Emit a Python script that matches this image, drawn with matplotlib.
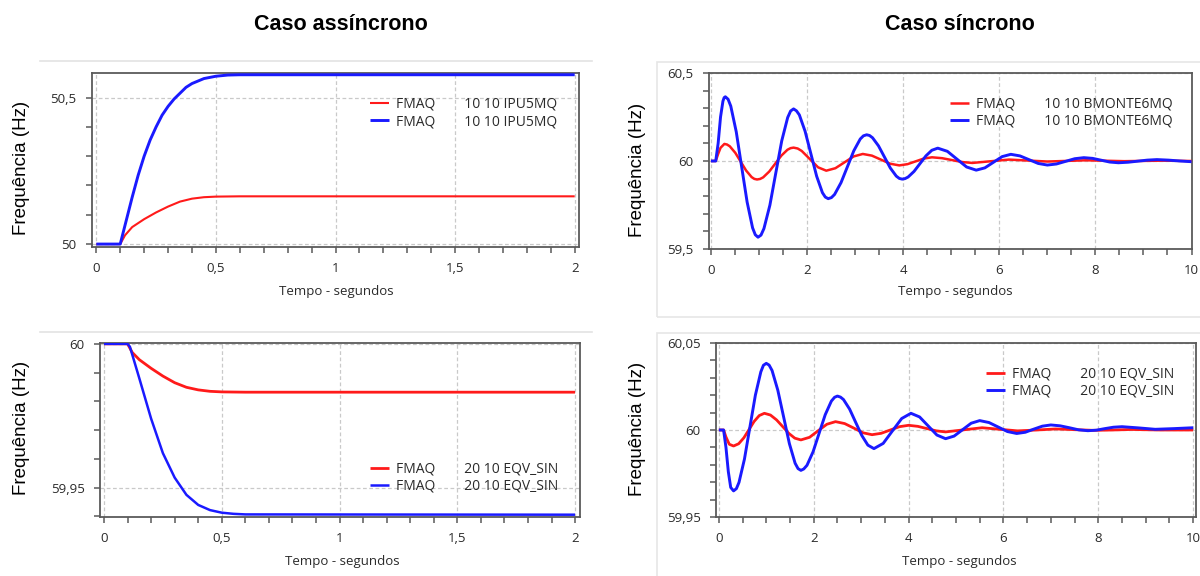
import matplotlib
matplotlib.use("Agg")
import matplotlib.pyplot as plt
from matplotlib.ticker import FixedLocator, FixedFormatter, MultipleLocator
from matplotlib.lines import Line2D
from matplotlib.patches import Rectangle

# ---------------- data ----------------
titles = ["Caso assíncrono", "Caso síncrono"]
ylabel_text = "Frequência (Hz)"
xlabel_text = "Tempo - segundos"

# Top-left: asynchronous case, 10 10 IPU5MQ
tl_t_red = [0.0, 0.1, 0.12, 0.15, 0.2, 0.25, 0.3, 0.35, 0.4, 0.45, 0.5, 0.6, 2.0]
tl_y_red = [50.0, 50.0, 50.03, 50.058, 50.085, 50.108, 50.128, 50.145, 50.155, 50.160, 50.162, 50.163, 50.163]
tl_t_blue = [0.0, 0.1, 0.125, 0.15, 0.175, 0.2, 0.225, 0.25, 0.275, 0.3, 0.325, 0.35, 0.375, 0.4,
             0.45, 0.5, 0.55, 0.6, 2.0]
tl_y_blue = [50.0, 50.0, 50.08, 50.16, 50.235, 50.30, 50.355, 50.40, 50.44, 50.47, 50.495, 50.515,
             50.535, 50.548, 50.565, 50.573, 50.577, 50.578, 50.578]
tl_legend = ["FMAQ        10 10 IPU5MQ", "FMAQ        10 10 IPU5MQ"]
tl_xticks = [0, 0.5, 1, 1.5, 2]
tl_xticklabels = ["0", "0,5", "1", "1,5", "2"]
tl_yticks = [50.0, 50.5]
tl_yticklabels = ["50", "50,5"]

# Top-right: synchronous case, 10 10 BMONTE6MQ
tr_t_red = [0.0, 0.1, 0.15, 0.2, 0.28, 0.335, 0.393, 0.507, 0.62, 0.733, 0.847, 0.903, 0.96, 1.023,
            1.087, 1.213, 1.34, 1.467, 1.593, 1.657, 1.72, 1.805, 1.89, 2.06, 2.23, 2.4, 2.59,
            2.78, 2.97, 3.16, 3.35, 3.54, 3.73, 3.92, 4.09, 4.26, 4.43, 4.6, 4.81, 5.02, 5.23,
            5.44, 5.82, 6.2, 6.6, 7.0, 7.4, 7.8, 8.2, 8.6, 9.0, 9.4, 10.0]
tr_y_red = [60.0, 60.0, 60.04, 60.075, 60.097, 60.0936, 60.0835, 60.0465, 59.996, 59.9455, 59.9085,
            59.8984, 59.895, 59.898, 59.907, 59.940, 59.9855, 60.031, 60.064, 60.073, 60.076,
            60.071, 60.057, 60.0105, 59.964, 59.945, 59.959, 59.9925, 60.026, 60.04, 60.0305,
            60.0075, 59.9845, 59.975, 59.982, 59.998, 60.014, 60.021, 60.016, 60.005, 59.994,
            59.989, 59.9985, 60.008, 60.0025, 59.997, 60.0005, 60.004, 60.0015, 59.999, 60.0005,
            60.002, 60.0]
tr_t_blue = [0.0, 0.1, 0.15, 0.2, 0.25, 0.275, 0.3, 0.357, 0.413, 0.527, 0.64, 0.753, 0.867, 0.923,
             0.98, 1.042, 1.103, 1.227, 1.35, 1.473, 1.597, 1.658, 1.72, 1.78, 1.84, 1.96, 2.08,
             2.2, 2.32, 2.38, 2.44, 2.507, 2.573, 2.707, 2.84, 2.973, 3.107, 3.173, 3.24, 3.3,
             3.363, 3.487, 3.61, 3.733, 3.857, 3.92, 3.98, 4.04, 4.103, 4.227, 4.35, 4.473,
             4.597, 4.72, 4.92, 5.12, 5.32, 5.52, 5.70, 5.88, 6.06, 6.24, 6.43, 6.62, 6.81, 7.0,
             7.19, 7.38, 7.57, 7.76, 7.94, 8.12, 8.30, 8.48, 8.68, 8.88, 9.08, 9.28, 9.52, 9.76,
             10.0]
tr_y_blue = [60.0, 60.0, 60.10, 60.25, 60.34, 60.36, 60.365, 60.351, 60.312, 60.166, 59.966,
             59.767, 59.620, 59.581, 59.567, 59.579, 59.616, 59.749, 59.932, 60.114, 60.247,
             60.284, 60.296, 60.285, 60.262, 60.1685, 60.041, 59.9135, 59.820, 59.795, 59.786,
             59.792, 59.810, 59.877, 59.9675, 60.058, 60.125, 60.143, 60.149, 60.145, 60.132,
             60.086, 60.023, 59.960, 59.914, 59.901, 59.897, 59.900, 59.909, 59.941, 59.985,
             60.029, 60.061, 60.073, 60.055, 60.0105, 59.966, 59.948, 59.961, 59.993, 60.025,
             60.038, 60.029, 60.0075, 59.986, 59.977, 59.983, 59.998, 60.013, 60.019, 60.015,
             60.0045, 59.994, 59.990, 59.993, 59.999, 60.005, 60.008, 60.005, 60.0, 59.996]
tr_legend = ["FMAQ        10 10 BMONTE6MQ", "FMAQ        10 10 BMONTE6MQ"]
tr_xticks = [0, 2, 4, 6, 8, 10]
tr_xticklabels = ["0", "2", "4", "6", "8", "10"]
tr_yticks = [59.5, 60.0, 60.5]
tr_yticklabels = ["59,5", "60", "60,5"]

# Bottom-left: asynchronous case, 20 10 EQV_SIN
bl_t_red = [0.0, 0.1, 0.12, 0.15, 0.2, 0.25, 0.3, 0.35, 0.4, 0.45, 0.5, 0.6, 2.0]
bl_y_red = [60.0, 60.0, 59.997, 59.9945, 59.9915, 59.9888, 59.9865, 59.9849, 59.984, 59.9835,
            59.9833, 59.9832, 59.9832]
bl_t_blue = [0.0, 0.1, 0.11, 0.15, 0.2, 0.25, 0.3, 0.35, 0.4, 0.45, 0.5, 0.55, 0.6, 2.0]
bl_y_blue = [60.0, 60.0, 59.999, 59.988, 59.974, 59.962, 59.9535, 59.9475, 59.944, 59.9422,
             59.9413, 59.9409, 59.9407, 59.9406]
bl_legend = ["FMAQ        20 10 EQV_SIN", "FMAQ        20 10 EQV_SIN"]
bl_xticks = [0, 0.5, 1, 1.5, 2]
bl_xticklabels = ["0", "0,5", "1", "1,5", "2"]
bl_yticks = [59.95, 60.0]
bl_yticklabels = ["59,95", "60"]

# Bottom-right: synchronous case, 20 10 EQV_SIN
br_t_red = [0.0, 0.1, 0.15, 0.22, 0.31, 0.418, 0.527, 0.635, 0.743, 0.852, 0.96, 1.088, 1.217,
            1.345, 1.473, 1.602, 1.73, 1.9125, 2.095, 2.2775, 2.46, 2.6525, 2.845, 3.0375, 3.23,
            3.4225, 3.615, 3.8075, 4.0, 4.195, 4.39, 4.585, 4.78, 5.165, 5.55, 5.925, 6.3, 6.7,
            7.1, 7.5, 7.9, 8.3, 8.7, 9.3, 10.0]
br_y_red = [60.0, 60.0, 59.996, 59.9918, 59.9908, 59.9921, 59.9955, 60.0002, 60.0049, 60.0083,
            60.0096, 60.0086, 60.0058, 60.002, 59.9981, 59.9953, 59.9943, 59.9958, 59.9996,
            60.0033, 60.0048, 60.0037, 60.0011, 59.9984, 59.9973, 59.9981, 60.0, 60.0019,
            60.0027, 60.0021, 60.0008, 59.9995, 59.9989, 60.0001, 60.0013, 60.0004, 59.9995,
            60.0, 60.0006, 60.0002, 59.9998, 60.0, 60.0003, 60.0, 60.0]
br_t_blue = [0.0, 0.1, 0.15, 0.2, 0.25, 0.31, 0.37, 0.425, 0.54, 0.655, 0.77, 0.885, 0.94, 1.0,
             1.06, 1.122, 1.243, 1.365, 1.487, 1.608, 1.67, 1.73, 1.79, 1.858, 1.987, 2.115,
             2.243, 2.372, 2.44, 2.5, 2.565, 2.628, 2.757, 2.885, 3.013, 3.142, 3.27, 3.465,
             3.66, 3.855, 4.05, 4.2325, 4.415, 4.5975, 4.78, 4.96, 5.14, 5.32, 5.5, 5.695, 5.89,
             6.085, 6.28, 6.46, 6.64, 6.82, 7.0, 7.195, 7.39, 7.585, 7.78, 7.96, 8.14, 8.32, 8.5,
             8.85, 9.2, 9.6, 10.0]
br_y_blue = [60.0, 60.0, 59.99, 59.976, 59.967, 59.965, 59.9663, 59.9699, 59.9833, 60.0017,
             60.0200, 60.0334, 60.0372, 60.0383, 60.0373, 60.0342, 60.0229, 60.0076, 59.9922,
             59.9809, 59.9778, 59.9768, 59.9776, 59.9797, 59.9875, 59.9982, 60.0088, 60.0166,
             60.0188, 60.0195, 60.0189, 60.0175, 60.012, 60.0044, 59.9969, 59.9913, 59.9893,
             59.9923, 59.9995, 60.0066, 60.0096, 60.0075, 60.0023, 59.9971, 59.995, 59.9965,
             60.0002, 60.0039, 60.0054, 60.0043, 60.0017, 59.9991, 59.998, 59.9987, 60.0005,
             60.0022, 60.0029, 60.0024, 60.0013, 60.0001, 59.9996, 59.9999, 60.0008, 60.0016,
             60.0019, 60.0012, 60.0004, 60.0008, 60.0013]
br_legend = ["FMAQ        20 10 EQV_SIN", "FMAQ        20 10 EQV_SIN"]
br_xticks = [0, 2, 4, 6, 8, 10]
br_xticklabels = ["0", "2", "4", "6", "8", "10"]
br_yticks = [59.95, 60.0, 60.05]
br_yticklabels = ["59,95", "60", "60,05"]

# ---------------- style ----------------
W, H = 1200, 576
RED = "#ff1a1a"
BLUE = "#1a1aff"
SPINE = "#5a5a5a"
GRID = "#c9c9c9"
TXT = "#2a2a2a"
UI_FONT = ["Open Sans", "DejaVu Sans"]
ARIAL = ["Liberation Sans", "DejaVu Sans"]

fig = plt.figure(figsize=(W / 100, H / 100), dpi=100)
fig.patch.set_facecolor("white")


def px_rect(left, top, right, bottom):
    return [left / W, 1 - bottom / H, (right - left) / W, (bottom - top) / H]


def panel(rect, tr, yr, tb, yb, xlim, ylim, xt, xtl, yt, ytl, xminor, yminor,
          labels, leg_anchor, lw_red, lw_blue):
    ax = fig.add_axes(rect)
    ax.plot(tr, yr, color=RED, lw=lw_red, label=labels[0], solid_capstyle="butt",
            solid_joinstyle="round", zorder=3)
    ax.plot(tb, yb, color=BLUE, lw=lw_blue, label=labels[1], solid_capstyle="butt",
            solid_joinstyle="round", zorder=4)
    ax.set_xlim(*xlim)
    ax.set_ylim(*ylim)
    ax.xaxis.set_major_locator(FixedLocator(xt))
    ax.xaxis.set_major_formatter(FixedFormatter(xtl))
    ax.yaxis.set_major_locator(FixedLocator(yt))
    ax.yaxis.set_major_formatter(FixedFormatter(ytl))
    ax.xaxis.set_minor_locator(MultipleLocator(xminor))
    ax.yaxis.set_minor_locator(MultipleLocator(yminor))
    ax.grid(True, which="major", color=GRID, ls=(0, (3, 2)), lw=0.9, zorder=1)
    for s in ax.spines.values():
        s.set_color(SPINE)
        s.set_linewidth(1.3)
    ax.tick_params(which="both", direction="out", length=4, width=1.1, color=SPINE,
                   top=False, right=False)
    ax.tick_params(which="major", labelsize=9.5, labelcolor=TXT, pad=7)
    for lab in ax.get_xticklabels() + ax.get_yticklabels():
        lab.set_family(UI_FONT)
    leg = ax.legend(loc="center left", bbox_to_anchor=leg_anchor, frameon=False,
                    prop={"family": UI_FONT, "size": 10}, handlelength=1.35,
                    handletextpad=0.5, labelspacing=0.15, borderpad=0, borderaxespad=0)
    for txt in leg.get_texts():
        txt.set_color(TXT)
    return ax


# decorations: separators / light boxes
fig.add_artist(Line2D([40 / W, 592 / W], [1 - 61 / H, 1 - 61 / H], color="#e3e3e3", lw=1.2))
fig.add_artist(Line2D([40 / W, 592 / W], [1 - 332 / H, 1 - 332 / H], color="#e3e3e3", lw=1.2))
fig.add_artist(Rectangle((657 / W, 1 - 317 / H), (W + 5 - 657) / W, 255 / H, fill=False,
                         edgecolor="#e6e6e6", lw=1.2, transform=fig.transFigure))
fig.add_artist(Rectangle((657 / W, 1 - 580 / H), (W + 5 - 657) / W, 247 / H, fill=False,
                         edgecolor="#e6e6e6", lw=1.2, transform=fig.transFigure))

panel(px_rect(92, 73, 579, 247), tl_t_red, tl_y_red, tl_t_blue, tl_y_blue,
      (-0.018, 2.018), (49.99, 50.584), tl_xticks, tl_xticklabels, tl_yticks, tl_yticklabels,
      0.1, 0.1, tl_legend, (0.571, 0.77), 1.5, 2.1)
panel(px_rect(709, 73, 1192, 249), tr_t_red, tr_y_red, tr_t_blue, tr_y_blue,
      (-0.04, 10.01), (59.5, 60.5), tr_xticks, tr_xticklabels, tr_yticks, tr_yticklabels,
      0.5, 0.1, tr_legend, (0.499, 0.776), 1.8, 2.1)
panel(px_rect(100, 343, 580, 517), bl_t_red, bl_y_red, bl_t_blue, bl_y_blue,
      (-0.017, 2.021), (59.9398, 60.0003), bl_xticks, bl_xticklabels, bl_yticks, bl_yticklabels,
      0.1, 0.01, bl_legend, (0.5625, 0.227), 2.0, 1.8)
panel(px_rect(716, 343, 1196, 517), br_t_red, br_y_red, br_t_blue, br_y_blue,
      (-0.06, 10.06), (59.95, 60.05), br_xticks, br_xticklabels, br_yticks, br_yticklabels,
      0.5, 0.01, br_legend, (0.5625, 0.773), 2.0, 2.1)

# titles
fig.text(341 / W, 1 - 25 / H, titles[0], ha="center", va="center", fontsize=15.5,
         fontweight="bold", family=ARIAL, color="black")
fig.text(960 / W, 1 - 25 / H, titles[1], ha="center", va="center", fontsize=15.5,
         fontweight="bold", family=ARIAL, color="black")

# axis labels
for (x, y) in [(22, 168), (637, 170), (22, 428), (637, 429)]:
    fig.text(x / W, 1 - y / H, ylabel_text, rotation=90, ha="center", va="center",
             fontsize=13.5, family=ARIAL, color="black")
for (x, y) in [(336, 292), (955, 292), (342, 562), (959, 562)]:
    fig.text(x / W, 1 - y / H, xlabel_text, ha="center", va="center",
             fontsize=9.5, family=UI_FONT, color=TXT)

fig.savefig("out.png", dpi=100, facecolor="white")
